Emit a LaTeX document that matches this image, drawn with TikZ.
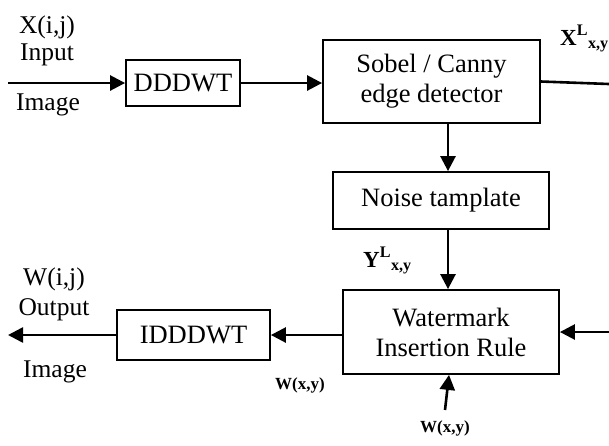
\documentclass[tikz,border=0pt]{standalone}
\usepackage{fontspec}
\setmainfont{Liberation Serif}
\usetikzlibrary{arrows.meta}
\begin{document}
\begin{tikzpicture}[x=1pt,y=-1pt,
  blk/.style={draw,line width=1.8pt,rectangle,inner sep=0pt,align=center,
    font=\fontsize{26.5}{30}\selectfont},
  flow/.style={line width=2.6pt,-{Triangle[length=15pt,width=15pt]}},
  wire/.style={line width=2.6pt},
  lbl/.style={anchor=base,inner sep=0pt,font=\fontsize{25.5}{28}\selectfont},
  sig/.style={anchor=base west,inner sep=0pt,font=\fontsize{23}{26}\bfseries\selectfont},
  wsig/.style={anchor=base,inner sep=0pt,font=\fontsize{17}{20}\bfseries\selectfont}]
\useasboundingbox (0,0) rectangle (609,445);

% processing blocks
\node[blk,minimum width=114,minimum height=46] (ddd) at (183,83) {DDDWT};
\node[blk,minimum width=217,minimum height=83] (sobel) at (431.5,81.5) {Sobel / Canny\\edge detector};
\node[blk,minimum width=216,minimum height=57] (noise) at (441,200.5) {Noise tamplate};
\node[blk,minimum width=216,minimum height=84] (wm) at (451,332) {Watermark\\Insertion Rule};
\node[blk,minimum width=153,minimum height=50] (iddd) at (193.5,335) {IDDDWT};

% free ends of the connectors
\coordinate (inL) at (8,83);
\coordinate (xr) at (609,84);
\coordinate (col) at (448,0);
\coordinate (wr) at (609,332);
\coordinate (wb) at (445,410);
\coordinate (outL) at (8,335);

% connectors
\draw[flow] (inL) -- (ddd.west);
\draw[flow] (ddd.east) -- (ddd.east -| sobel.west);
\draw[wire] (sobel.east) -- (xr);
\draw[flow] (sobel.south -| col) -- (noise.north -| col);
\draw[flow] (noise.south -| col) -- (wm.north -| col);
\draw[flow] (wr) -- (wr -| wm.east);
\draw[flow] (wb) -- ([xshift=-2pt]wm.south);
\draw[flow] (wm.west |- iddd.east) -- (iddd.east);
\draw[flow] (iddd.west) -- (outL);

% input / output captions
\node[lbl] (xij) at (47,33) {X(i,j)};
\node[lbl] (inp) at (47,60) {Input};
\node[lbl] (img1) at (48,110) {Image};
\node[lbl] (wij) at (54,285) {W(i,j)};
\node[lbl] (outp) at (54,315) {Output};
\node[lbl] (img2) at (55,377) {Image};

% signal labels
\node[sig] (xl) at (560,45) {X\textsuperscript{L}\textsubscript{x,y}};
\node[sig] (yl) at (363,267) {Y\textsuperscript{L}\textsubscript{x,y}};
\node[wsig] (wxy1) at (300,389) {W(x,y)};
\node[wsig] (wxy2) at (445,432) {W(x,y)};
\end{tikzpicture}
\end{document}
